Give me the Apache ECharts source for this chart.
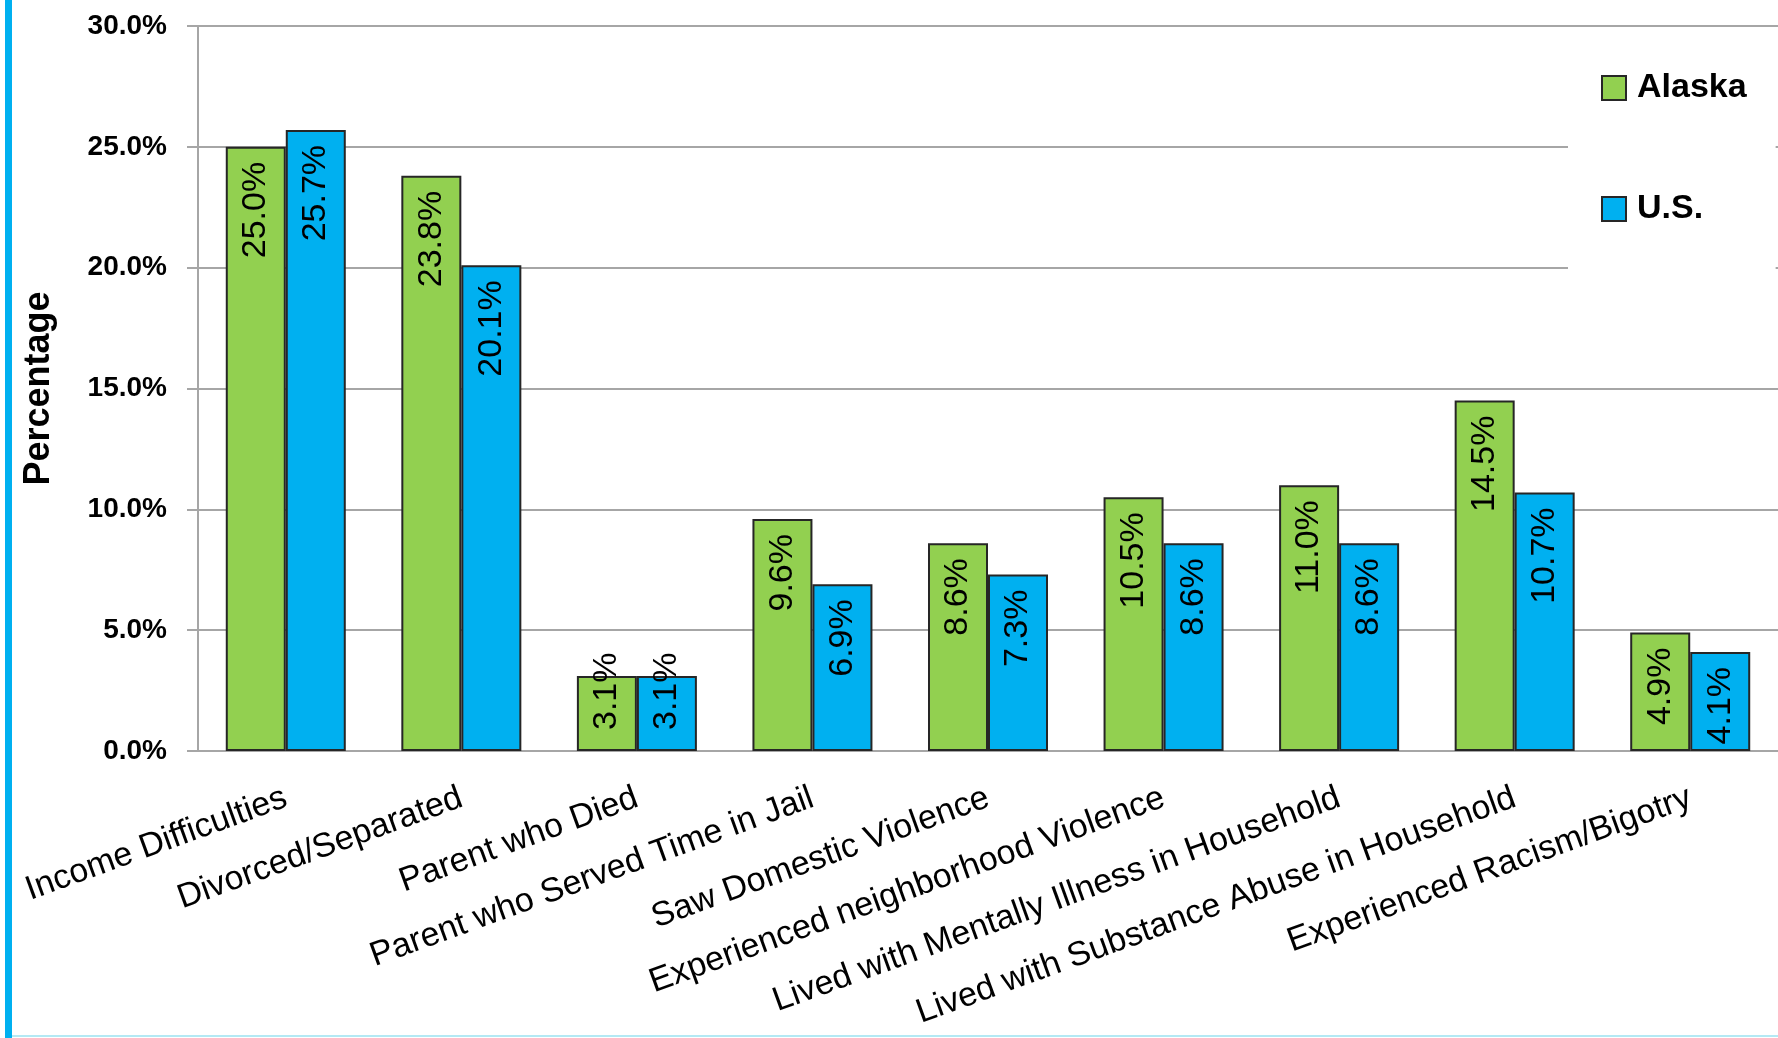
<!DOCTYPE html>
<html>
<head>
<meta charset="utf-8">
<script src="https://cdn.jsdelivr.net/npm/echarts@6/dist/echarts.min.js"></script>
<style>
html,body{margin:0;padding:0;background:#fff;}
#chart{width:1778px;height:1038px;}
</style>
</head>
<body>
<div id="chart"></div>
<script>
const categories = [
  'Income Difficulties',
  'Divorced/Separated',
  'Parent who Died',
  'Parent who Served Time in Jail',
  'Saw Domestic Violence',
  'Experienced neighborhood Violence',
  'Lived with Mentally Illness in Household',
  'Lived with Substance Abuse in Household',
  'Experienced Racism/Bigotry'
];
const alaska = [25.0, 23.8, 3.1, 9.6, 8.6, 10.5, 11.0, 14.5, 4.9];
const us = [25.7, 20.1, 3.1, 6.9, 7.3, 8.6, 8.6, 10.7, 4.1];
const seriesNames = ['Alaska', 'U.S.'];
const yMin = 0, yMax = 30, yStep = 5;
const yAxisTitle = 'Percentage';

const FONT = "'Liberation Sans', Arial, sans-serif";
const GRID_GRAY = '#a6a6a6';
const BORDER = '#262626';

function buildData(values) {
  return values.map(v => {
    const fits = v >= 4;
    return {
      value: v,
      label: fits ? {
        position: 'insideTop', distance: 15, align: 'right'
      } : {
        position: 'insideBottom', distance: 21, align: 'left'
      }
    };
  });
}

const labelBase = {
  show: true,
  rotate: 90,
  verticalAlign: 'middle',
  color: '#000',
  fontFamily: FONT,
  fontSize: 34,
  formatter: p => p.value.toFixed(1) + '%'
};

const chart = echarts.init(document.getElementById('chart'), null, {renderer: 'canvas'});
chart.setOption({
  backgroundColor: '#fff',
  animation: false,
  grid: {left: 198, right: 0, top: 26, bottom: 287, containLabel: false},
  legend: {
    orient: 'vertical',
    left: 1568,
    top: 32,
    padding: [39, 29, 49, 33],
    backgroundColor: '#fff',
    itemWidth: 24,
    itemHeight: 24,
    itemGap: 87,
    icon: 'rect',
    textStyle: {fontFamily: FONT, fontSize: 34, fontWeight: 'bold', color: '#000', padding: [0, 0, 0, 6]},
    data: seriesNames
  },
  xAxis: {
    type: 'category',
    data: categories,
    axisLine: {show: true, lineStyle: {color: GRID_GRAY, width: 2}},
    axisTick: {show: false},
    axisLabel: {
      interval: 0, rotate: 20, margin: 46,
      fontFamily: FONT, fontSize: 34, color: '#000'
    }
  },
  yAxis: {
    type: 'value',
    min: yMin, max: yMax, interval: yStep,
    name: yAxisTitle,
    nameLocation: 'middle',
    nameRotate: 90,
    nameGap: 141,
    nameTextStyle: {fontFamily: FONT, fontSize: 36, fontWeight: 'bold', color: '#000'},
    axisLine: {show: true, lineStyle: {color: GRID_GRAY, width: 2}},
    axisTick: {show: true, length: 11, lineStyle: {color: GRID_GRAY, width: 2}},
    splitLine: {show: true, lineStyle: {color: GRID_GRAY, width: 2}},
    axisLabel: {
      margin: 31,
      fontFamily: FONT, fontSize: 28, fontWeight: 'bold', color: '#000',
      formatter: v => v.toFixed(1) + '%'
    }
  },
  series: [
    {
      name: seriesNames[0], type: 'bar', data: buildData(alaska),
      barWidth: 60, barGap: '0%',
      itemStyle: {color: '#92d050', borderColor: BORDER, borderWidth: 2},
      label: labelBase
    },
    {
      name: seriesNames[1], type: 'bar', data: buildData(us),
      barWidth: 60, barGap: '0%',
      itemStyle: {color: '#00b0f0', borderColor: BORDER, borderWidth: 2},
      label: labelBase
    }
  ],
  graphic: [
    {type: 'rect', left: 5, top: 0, shape: {width: 7, height: 1038}, style: {fill: '#00b0f0'}, z: 100},
    {type: 'rect', left: 12, top: 1035, shape: {width: 1766, height: 2}, style: {fill: '#b4e9f4'}, z: 100}
  ]
});
</script>
</body>
</html>
